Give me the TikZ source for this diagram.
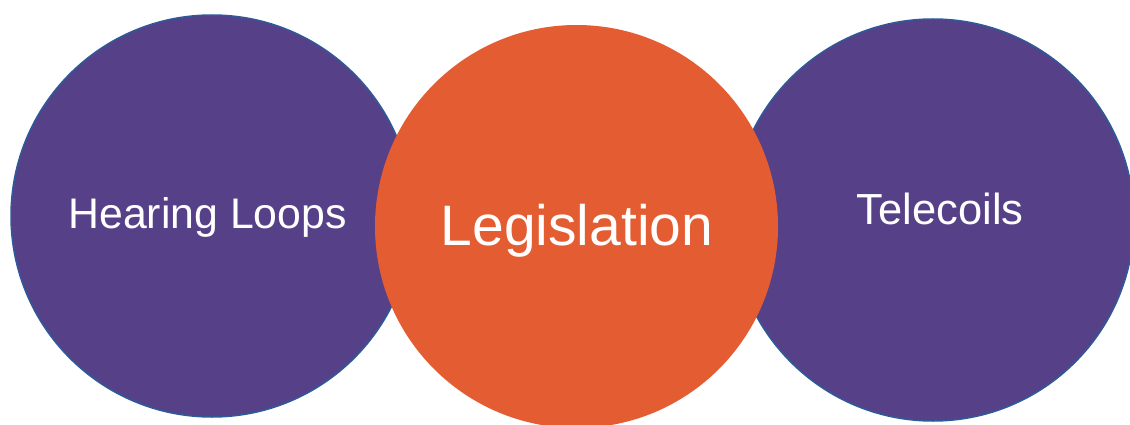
\documentclass[tikz,border=0pt]{standalone}
\usepackage{fontspec}
\setmainfont{Liberation Sans}
\definecolor{loopPurple}{HTML}{564189}
\definecolor{lawOrange}{HTML}{E45D32}
\definecolor{rimBlue}{HTML}{2E5A99}
\begin{document}
\begin{tikzpicture}[x=1pt,y=1pt,
  topic/.style={circle, fill=loopPurple, draw=rimBlue, line width=1.5pt,
    minimum size=402pt, inner sep=0pt},
  hub/.style={circle, fill=lawOrange, draw=none, minimum size=403pt, inner sep=0pt},
  label/.style={text=white, anchor=base, inner sep=0pt}]
  \useasboundingbox (0,0) rectangle (1130,424);
  \begin{scope}
    \clip (0,0) rectangle (1130,424);
    \node[topic] (loops) at (212,208) {};
    \node[topic] (coils) at (933,204) {};
    \node[hub] (law) at (576.5,197.5) {};
  \end{scope}
  \node[label, font=\fontsize{42.8}{50}\selectfont] (loopsT) at (207.5,196) {Hearing Loops};
  \node[label, font=\fontsize{57}{66}\selectfont] (lawT) at (577,179) {Legislation};
  \node[label, font=\fontsize{43.5}{52}\selectfont] (coilsT) at (940,200) {Telecoils};
\end{tikzpicture}
\end{document}
